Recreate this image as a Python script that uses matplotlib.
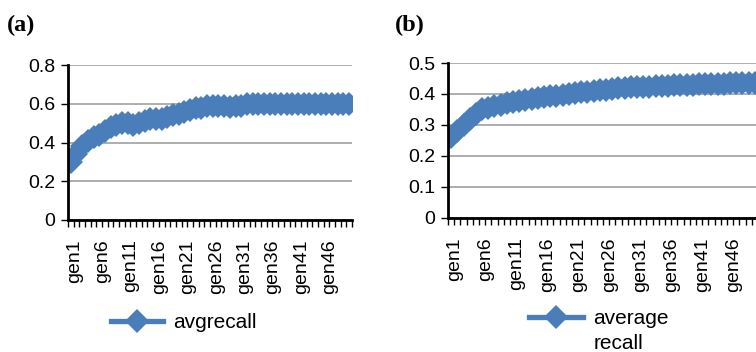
"""Average recall per generation, two panels (a) and (b)."""
import matplotlib
matplotlib.use("Agg")
import matplotlib.pyplot as plt
from matplotlib.lines import Line2D
from matplotlib.ticker import FixedLocator, MultipleLocator

plt.rcParams["font.family"] = ["Liberation Sans", "DejaVu Sans"]

generations = [f"gen{i}" for i in range(1, 51)]

avgrecall_a = [
    0.30, 0.34, 0.38, 0.41, 0.43, 0.44, 0.46, 0.48, 0.49, 0.50,
    0.50, 0.49, 0.50, 0.51, 0.52, 0.52, 0.52, 0.53, 0.54, 0.55,
    0.56, 0.57, 0.58, 0.58, 0.59, 0.59, 0.59, 0.59, 0.585, 0.59,
    0.59, 0.60, 0.60, 0.60, 0.60, 0.60, 0.60, 0.60, 0.60, 0.60,
    0.60, 0.60, 0.60, 0.60, 0.60, 0.60, 0.60, 0.60, 0.60, 0.60,
]

avgrecall_b = [
    0.26, 0.28, 0.30, 0.32, 0.335, 0.35, 0.355, 0.36, 0.365, 0.37,
    0.375, 0.378, 0.38, 0.385, 0.388, 0.39, 0.393, 0.395, 0.398, 0.40,
    0.402, 0.405, 0.407, 0.41, 0.412, 0.414, 0.416, 0.418, 0.42, 0.421,
    0.422, 0.423, 0.424, 0.425, 0.426, 0.427, 0.428, 0.429, 0.43, 0.43,
    0.431, 0.432, 0.432, 0.433, 0.433, 0.434, 0.434, 0.435, 0.435, 0.435,
]

BLUE = "#4A7EBB"
GRID = "#A0A0A0"


def style_axis(ax, ymax, ystep):
    n = len(generations)
    ax.set_xlim(-0.5, n - 0.5)
    ax.set_ylim(0, ymax)
    ax.yaxis.set_major_locator(MultipleLocator(ystep))
    ax.yaxis.set_major_formatter(lambda v, _: "0" if abs(v) < 1e-9 else f"{v:g}")
    ax.grid(axis="y", color=GRID, linewidth=1.2)
    ax.set_axisbelow(True)
    for side in ("top", "right"):
        ax.spines[side].set_visible(False)
    for side in ("left", "bottom"):
        ax.spines[side].set_linewidth(2)
        ax.spines[side].set_color("black")
    # labels every 5th category, small tick marks between categories
    ax.set_xticks([i + 0.6 for i in range(0, n, 5)])
    ax.set_xticklabels(generations[::5], rotation=90, fontsize=14)
    ax.xaxis.set_minor_locator(FixedLocator([i - 0.5 for i in range(n + 1)]))
    ax.tick_params(axis="x", which="major", length=0, pad=14)
    ax.tick_params(axis="x", which="minor", length=5, width=1, direction="out")
    ax.tick_params(axis="y", length=5, width=1, labelsize=14, pad=4)


fig = plt.figure(figsize=(7.56, 3.52), dpi=100)
ax_a = fig.add_axes([0.0899, 0.375, 0.3757, 0.440])
ax_b = fig.add_axes([0.5926, 0.381, 0.4100, 0.440])

x = range(len(generations))
line_a, = ax_a.plot(x, avgrecall_a, color=BLUE, linewidth=3.8, marker="D",
                    markersize=12, markeredgewidth=0, label="avgrecall")
line_b, = ax_b.plot(x, avgrecall_b, color=BLUE, linewidth=3.8, marker="D",
                    markersize=12, markeredgewidth=0)

style_axis(ax_a, 0.8, 0.2)
style_axis(ax_b, 0.5, 0.1)

ax_a.legend(handles=[line_a], loc="center left", bbox_to_anchor=(0.085, -0.665),
            frameon=False, fontsize=15, numpoints=1, handlelength=2.5,
            handletextpad=0.5)
spacer = Line2D([], [], linestyle="none")
ax_b.legend(handles=[line_b, spacer], labels=["average", "recall"],
            loc="center left", bbox_to_anchor=(0.2, -0.73), frameon=False,
            fontsize=15, numpoints=1, handlelength=2.6, handletextpad=0.5,
            labelspacing=0.25)

fig.text(0.009, 0.912, "(a)", fontsize=17.5, fontweight="bold",
         family=["Liberation Serif", "DejaVu Serif"])
fig.text(0.522, 0.912, "(b)", fontsize=17.5, fontweight="bold",
         family=["Liberation Serif", "DejaVu Serif"])

fig.savefig("out.png", dpi=100)
plt.close(fig)
